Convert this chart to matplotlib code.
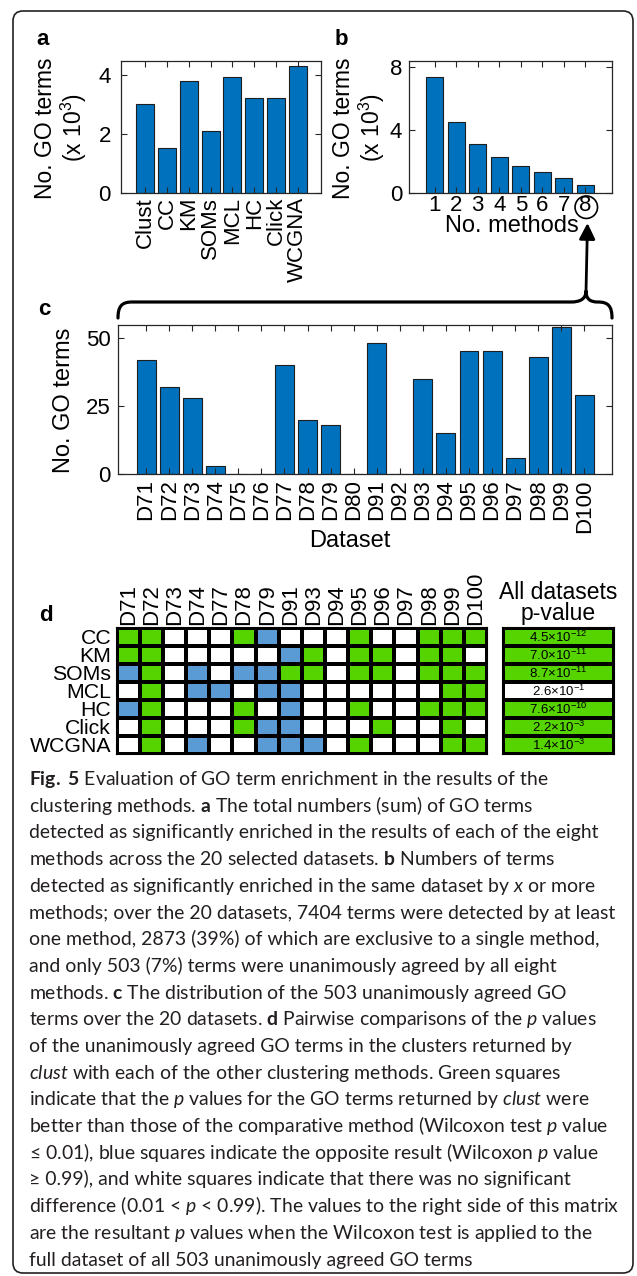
import numpy as np
import matplotlib
matplotlib.use("Agg")
import matplotlib.pyplot as plt
from matplotlib.colors import ListedColormap
from matplotlib.patches import FancyBboxPatch, Ellipse, PathPatch
from matplotlib.path import Path

# ------------------------- data -------------------------
methods_a = ["Clust", "CC", "KM", "SOMs", "MCL", "HC", "Click", "WCGNA"]
go_terms_a = [3.0, 1.53, 3.78, 2.09, 3.93, 3.2, 3.2, 4.31]          # x 10^3

n_methods_b = ["1", "2", "3", "4", "5", "6", "7", "8"]
go_terms_b = [7.404, 4.531, 3.11, 2.28, 1.70, 1.30, 0.94, 0.503]     # x 10^3

datasets_c = ["D71", "D72", "D73", "D74", "D75", "D76", "D77", "D78", "D79", "D80",
              "D91", "D92", "D93", "D94", "D95", "D96", "D97", "D98", "D99", "D100"]
go_terms_c = [42, 32, 28, 3, 0, 0, 40, 20, 18, 0, 48, 0, 35, 15, 45, 45, 6, 43, 54, 29]

datasets_d = ["D71", "D72", "D73", "D74", "D77", "D78", "D79", "D91",
              "D93", "D94", "D95", "D96", "D97", "D98", "D99", "D100"]
methods_d = ["CC", "KM", "SOMs", "MCL", "HC", "Click", "WCGNA"]
# 1 = clust better (green), -1 = opposite (blue), 0 = no significant difference
cmp_CC    = [1, 1, 0, 0, 0, 1, -1, 0, 0, 0, 1, 0, 0, 1, 1, 1]
cmp_KM    = [1, 1, 0, 0, 0, 0, 0, -1, 1, 0, 1, 1, 0, 1, 1, 0]
cmp_SOMs  = [-1, 1, 0, -1, 0, -1, -1, 1, 1, 0, 1, 1, 0, 1, 1, 1]
cmp_MCL   = [0, 1, 0, -1, -1, 0, -1, -1, 0, 0, 0, 0, 0, 0, 1, 1]
cmp_HC    = [-1, 1, 0, 0, 0, 1, 0, -1, 0, 0, 1, 0, 0, 1, 1, 1]
cmp_Click = [0, 1, 0, 0, 0, 1, -1, -1, 0, 0, 0, 1, 0, 0, 1, 0]
cmp_WCGNA = [0, 1, 0, -1, 0, 0, -1, -1, -1, 0, 1, 0, 0, 0, 1, 1]

pvalue_labels = [r"4.5×10$^{-12}$", r"7.0×10$^{-11}$", r"8.7×10$^{-11}$", r"2.6×10$^{-1}$",
                 r"7.6×10$^{-10}$", r"2.2×10$^{-3}$", r"1.4×10$^{-3}$"]
pvalue_signif = [1, 1, 1, 0, 1, 1, 1]

caption_lines = [
    r"$\mathbf{Fig.}$ $\mathbf{5}$ Evaluation of GO term enrichment in the results of the",
    r"clustering methods. $\mathbf{a}$ The total numbers (sum) of GO terms",
    "detected as significantly enriched in the results of each of the eight",
    r"methods across the 20 selected datasets. $\mathbf{b}$ Numbers of terms",
    r"detected as significantly enriched in the same dataset by $\mathit{x}$ or more",
    "methods; over the 20 datasets, 7404 terms were detected by at least",
    "one method, 2873 (39%) of which are exclusive to a single method,",
    "and only 503 (7%) terms were unanimously agreed by all eight",
    r"methods. $\mathbf{c}$ The distribution of the 503 unanimously agreed GO",
    r"terms over the 20 datasets. $\mathbf{d}$ Pairwise comparisons of the $\mathit{p}$ values",
    "of the unanimously agreed GO terms in the clusters returned by",
    r"$\mathit{clust}$ with each of the other clustering methods. Green squares",
    r"indicate that the $\mathit{p}$ values for the GO terms returned by $\mathit{clust}$ were",
    r"better than those of the comparative method (Wilcoxon test $\mathit{p}$ value",
    r"≤ 0.01), blue squares indicate the opposite result (Wilcoxon $\mathit{p}$ value",
    "≥ 0.99), and white squares indicate that there was no significant",
    r"difference (0.01 < $\mathit{p}$ < 0.99). The values to the right side of this matrix",
    r"are the resultant $\mathit{p}$ values when the Wilcoxon test is applied to the",
    "full dataset of all 503 unanimously agreed GO terms",
]

# ------------------------- style -------------------------
plt.rcParams["font.family"] = ["Liberation Sans", "DejaVu Sans"]
plt.rcParams["mathtext.fontset"] = "custom"
plt.rcParams["mathtext.default"] = "regular"
plt.rcParams["mathtext.rm"] = "Lato"
plt.rcParams["mathtext.it"] = "Lato:italic"
plt.rcParams["mathtext.bf"] = "Lato:bold"

BAR = "#0072BD"
GREEN = "#55D400"
BLUE = "#5B9BD5"
SPINE = "#262626"

W, H = 637, 1276
fig = plt.figure(figsize=(W / 100, H / 100), dpi=100)


def rect(l, t, r, b):
    return [l / W, 1 - b / H, (r - l) / W, (b - t) / H]


def fx(x):
    return x / W


def fy(y):
    return 1 - y / H


# overlay in pixel coordinates for frame, brace and arrow
ov = fig.add_axes([0, 0, 1, 1], zorder=10)
ov.set_xlim(0, W)
ov.set_ylim(H, 0)
ov.axis("off")
ov.patch.set_alpha(0)

ov.add_patch(FancyBboxPatch((13, 11), 620, 1262, boxstyle="round,pad=0,rounding_size=10",
                            fill=False, lw=1.2, ec="#222222"))


def style_axes(ax):
    for s in ax.spines.values():
        s.set_color(SPINE)
        s.set_linewidth(0.9)
    ax.tick_params(direction="in", top=True, right=True, length=4, width=0.8,
                   color=SPINE, labelsize=16, labelcolor="black")


# ------------------------- panel a -------------------------
axa = fig.add_axes(rect(120.7, 61, 321, 192.7))
xa = np.arange(len(methods_a))
axa.bar(xa, go_terms_a, width=0.82, color=BAR, edgecolor="#1e1e1e", linewidth=0.8)
axa.set_xlim(-1.12, 8.06)
axa.set_ylim(0, 4.47)
axa.set_yticks([0, 2, 4])
axa.set_xticks(xa)
axa.set_xticklabels(methods_a, rotation=90)
style_axes(axa)
axa.tick_params(axis="y", pad=7)
axa.tick_params(axis="x", pad=3)
fig.text(fx(45), fy(128), "No. GO terms", rotation=90, ha="center", va="center", fontsize=16.5)
fig.text(fx(74), fy(128), r"(x 10$^3$)", rotation=90, ha="center", va="center", fontsize=16.5)
fig.text(fx(42.5), fy(45), "a", fontweight="bold", fontsize=16, ha="center", va="baseline")

# ------------------------- panel b -------------------------
axb = fig.add_axes(rect(409, 61, 611.7, 192.7))
xb = np.arange(len(n_methods_b))
axb.bar(xb, go_terms_b, width=0.8, color=BAR, edgecolor="#1e1e1e", linewidth=0.8)
axb.set_xlim(-1.2, 8.23)
axb.set_ylim(0, 8.4)
axb.set_yticks([0, 4, 8])
axb.set_xticks(xb)
axb.set_xticklabels(n_methods_b)
style_axes(axb)
axb.tick_params(axis="y", pad=5)
axb.tick_params(axis="x", pad=2)
fig.text(fx(344), fy(128), "No. GO terms", rotation=90, ha="center", va="center", fontsize=16.5)
fig.text(fx(372), fy(128), r"(x 10$^3$)", rotation=90, ha="center", va="center", fontsize=16.5)
fig.text(fx(512), fy(226), "No. methods", ha="center", va="center", fontsize=17)
fig.text(fx(341), fy(45), "b", fontweight="bold", fontsize=16, ha="center", va="baseline")
ov.add_patch(Ellipse((586.3, 207.2), 22.5, 22.5, fill=False, lw=1.2, ec="black"))

# ------------------------- brace + arrow -------------------------
verts = [(118, 318), (118, 306), (122, 302), (132, 302),
         (571, 302),
         (580, 302), (586, 299), (586, 291),
         (586, 299), (590, 302), (598, 302),
         (608, 302), (612, 306), (612, 318)]
codes = [Path.MOVETO, Path.CURVE4, Path.CURVE4, Path.CURVE4,
         Path.LINETO,
         Path.CURVE4, Path.CURVE4, Path.CURVE4,
         Path.CURVE4, Path.CURVE4, Path.CURVE4,
         Path.CURVE4, Path.CURVE4, Path.CURVE4]
ov.add_patch(PathPatch(Path(verts, codes), fill=False, lw=2.3, ec="black",
                       capstyle="round", joinstyle="round"))
ov.annotate("", xy=(587.5, 223), xytext=(586, 292),
            arrowprops=dict(arrowstyle="-|>,head_length=0.6,head_width=0.3",
                            lw=2.0, color="black", shrinkA=0, shrinkB=0,
                            mutation_scale=16))

# ------------------------- panel c -------------------------
axc = fig.add_axes(rect(117.7, 325, 612, 474.3))
xc = np.arange(len(datasets_c))
axc.bar(xc, go_terms_c, width=0.82, color=BAR, edgecolor="#1e1e1e", linewidth=0.8)
axc.set_xlim(-1.23, 20.2)
axc.set_ylim(0, 54.7)
axc.set_yticks([0, 25, 50])
axc.set_xticks(xc)
axc.set_xticklabels(datasets_c, rotation=90)
style_axes(axc)
axc.tick_params(axis="y", pad=5)
axc.tick_params(axis="x", pad=3.5)
fig.text(fx(64), fy(400), "No. GO terms", rotation=90, ha="center", va="center", fontsize=17)
fig.text(fx(350), fy(541), "Dataset", ha="center", va="center", fontsize=17)
fig.text(fx(44), fy(315), "c", fontweight="bold", fontsize=16, ha="center", va="baseline")

# ------------------------- panel d -------------------------
mat = np.array([cmp_CC, cmp_KM, cmp_SOMs, cmp_MCL, cmp_HC, cmp_Click, cmp_WCGNA])
axd = fig.add_axes(rect(116.7, 628, 487, 753.5))
axd.pcolormesh(np.arange(len(datasets_d) + 1), np.arange(len(methods_d) + 1), mat,
               cmap=ListedColormap([BLUE, "white", GREEN]), vmin=-1.5, vmax=1.5,
               edgecolors="black", linewidth=1.5)
axd.set_xlim(0, len(datasets_d))
axd.set_ylim(len(methods_d), 0)
axd.xaxis.tick_top()
axd.set_xticks(np.arange(len(datasets_d)) + 0.5)
axd.set_xticklabels(datasets_d, rotation=90, fontsize=16)
axd.set_yticks(np.arange(len(methods_d)) + 0.5)
axd.set_yticklabels(methods_d, fontsize=15.3)
axd.tick_params(length=0)
axd.tick_params(axis="x", pad=2)
axd.tick_params(axis="y", pad=4)
for s in axd.spines.values():
    s.set_linewidth(1.5)
    s.set_color("black")
fig.text(fx(46), fy(621), "d", fontweight="bold", fontsize=16, ha="center", va="baseline")

axp = fig.add_axes(rect(502.7, 628, 614, 753.5))
axp.pcolormesh(np.array([0, 1]), np.arange(len(pvalue_signif) + 1),
               np.array(pvalue_signif).reshape(-1, 1),
               cmap=ListedColormap(["white", GREEN]), vmin=-0.5, vmax=1.5,
               edgecolors="black", linewidth=1.5)
axp.set_xlim(0, 1)
axp.set_ylim(len(pvalue_signif), 0)
axp.set_xticks([])
axp.set_yticks([])
for s in axp.spines.values():
    s.set_linewidth(1.5)
    s.set_color("black")
for i, lab in enumerate(pvalue_labels):
    axp.text(0.5, i + 0.55, lab, ha="center", va="center", fontsize=9.5)
fig.text(fx(558), fy(603), "All datasets\np-value", ha="center", va="center",
         multialignment="center", fontsize=16.5, linespacing=0.9)

# ------------------------- caption -------------------------
renderer = fig.canvas.get_renderer()
cap_family = ["Lato", "DejaVu Sans"]
probe = fig.text(0, 0, caption_lines[5], fontsize=10, family=cap_family)
cap_size = 10 * 589.0 / probe.get_window_extent(renderer).width
probe.remove()
for i, line in enumerate(caption_lines):
    fig.text(fx(29), fy(785 + 26.7 * i), line, fontsize=cap_size, family=cap_family,
             color="#231f20", ha="left", va="baseline")

fig.savefig("out.png", dpi=100)
